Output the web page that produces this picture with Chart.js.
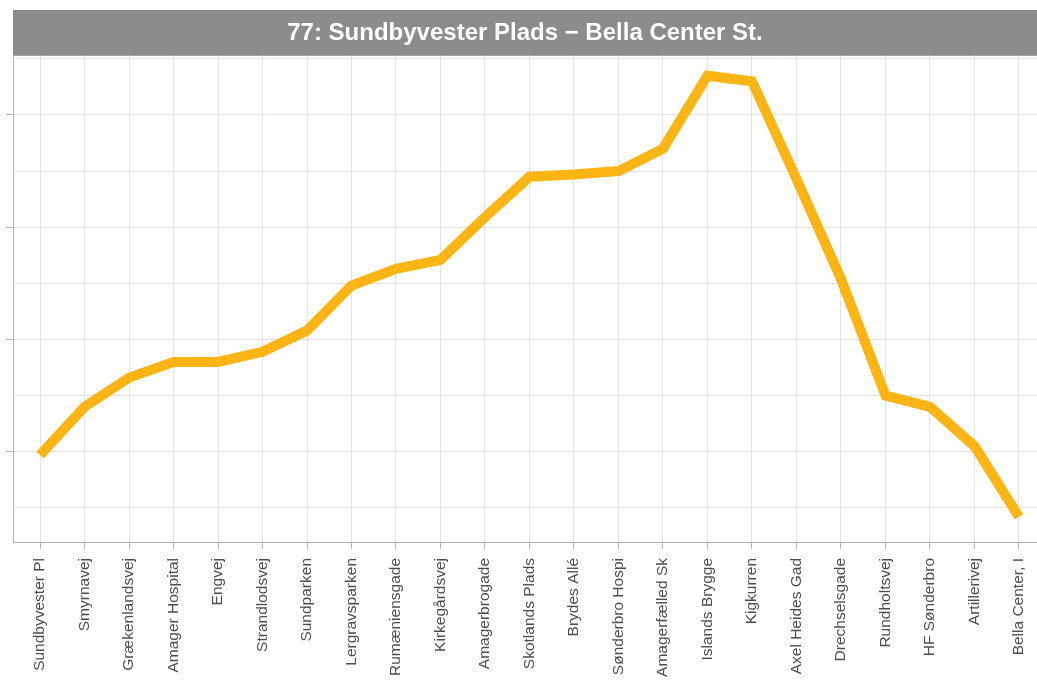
<!DOCTYPE html>
<html>
<head>
<meta charset="utf-8">
<script src="https://cdn.jsdelivr.net/npm/chart.js@4/dist/chart.umd.min.js"></script>
<style>
  html, body { margin: 0; padding: 0; background: #fff; }
  #wrap { width: 1037px; height: 683px; position: relative; }
</style>
</head>
<body>
<div id="wrap"><canvas id="myChart"></canvas></div>
<script>
const title = '77: Sundbyvester Plads \u2212 Bella Center St.';

// stops along the route
const stops = [
  'Sundbyvester Pl',
  'Smyrnavej',
  'Grækenlandsvej',
  'Amager Hospital',
  'Engvej',
  'Strandlodsvej',
  'Sundparken',
  'Lergravsparken',
  'Rumæniensgade',
  'Kirkegårdsvej',
  'Amagerbrogade',
  'Skotlands Plads',
  'Brydes Allé',
  'Sønderbro Hospi',
  'Amagerfælled Sk',
  'Islands Brygge',
  'Kigkurren',
  'Axel Heides Gad',
  'Drechselsgade',
  'Rundholtsvej',
  'HF Sønderbro',
  'Artillerivej',
  'Bella Center, I',
];

const values = [9.7, 14.0, 16.6, 18.0, 18.0, 18.9, 20.8, 24.8, 26.3, 27.1, 30.9, 34.5, 34.7, 35.0, 37.0, 43.5, 43.0, 34.3, 25.4, 15.0, 14.0, 10.5, 4.2];

// y grid every 5, tick marks only on the tens
const yTicks = [5, 10, 15, 20, 25, 30, 35, 40, 45];

const points = stops.map(function (s, i) {
  return { x: i, y: values[i] };
});

// grey band behind the title
const titleBar = {
  id: 'titleBar',
  beforeDraw(chart) {
    const t = chart.titleBlock;
    const ctx = chart.ctx;
    ctx.save();
    ctx.fillStyle = '#8c8c8c';
    ctx.fillRect(chart.chartArea.left, t.top, chart.width - chart.chartArea.left, t.height);
    ctx.restore();
  }
};

const data = {
  datasets: [{
    data: points,
    borderColor: '#fdb515',
    backgroundColor: '#fdb515',
    borderWidth: 10,
    borderCapStyle: 'butt',
    borderJoinStyle: 'miter',
    tension: 0,
    pointRadius: 0,
    fill: false,
  }]
};

const config = {
  type: 'line',
  data: data,
  plugins: [titleBar],
  options: {
    responsive: false,
    animation: false,
    layout: { padding: { top: 10, left: 13, right: 0, bottom: 0 } },
    plugins: {
      legend: { display: false },
      tooltip: { enabled: false },
      title: {
        display: true,
        text: title,
        color: '#ffffff',
        font: { family: 'Liberation Sans, Arial, sans-serif', size: 24, weight: 'bold', lineHeight: 1.2 },
        padding: { top: 9, bottom: 8 },
      }
    },
    scales: {
      x: {
        type: 'linear',
        min: -0.607,
        max: 22.405,
        afterBuildTicks: function (scale) {
          scale.ticks = stops.map(function (s, i) { return { value: i }; });
        },
        afterFit: function (scale) {
          scale.height = 141;
          scale.paddingLeft = 0;
          scale.paddingRight = 0;
        },
        grid: { color: '#e3e3e3', lineWidth: 1, tickLength: 7, tickColor: '#b3b3b3' },
        border: { display: true, color: '#b3b3b3', width: 1 },
        ticks: {
          autoSkip: false,
          minRotation: 90,
          maxRotation: 90,
          padding: 9,
          color: '#4d4d4d',
          font: { family: 'Liberation Sans, Arial, sans-serif', size: 15.5 },
          callback: function (v) { return stops[v]; }
        }
      },
      y: {
        min: 1.96,
        max: 45.27,
        afterBuildTicks: function (scale) {
          scale.ticks = yTicks.map(function (v) { return { value: v }; });
        },
        // tick marks hang into the left padding
        afterFit: function (scale) { scale.width = 0; },
        grid: {
          color: '#e3e3e3',
          lineWidth: 1,
          tickLength: 7,
          tickColor: function (c) { return c.tick && c.tick.value % 10 === 0 ? '#b3b3b3' : 'rgba(0,0,0,0)'; }
        },
        border: { display: true, color: '#b3b3b3', width: 1 },
        ticks: { display: false }
      }
    }
  }
};

const canvas = document.getElementById('myChart');
canvas.width = 1037;
canvas.height = 683;
const myChart = new Chart(canvas, config);
</script>
</body>
</html>
